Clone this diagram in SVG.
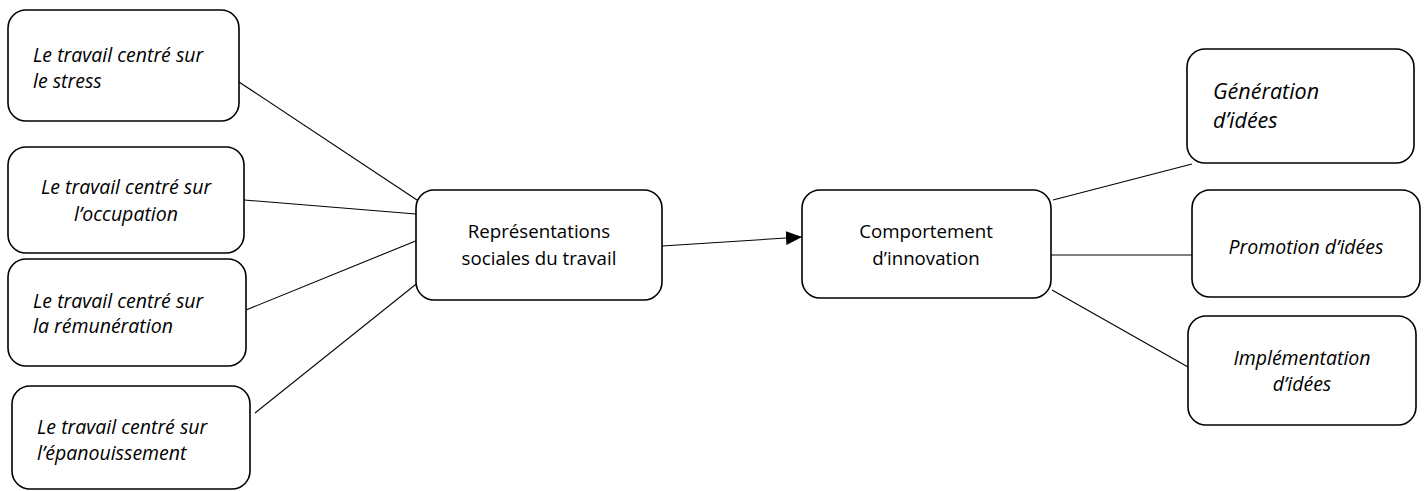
<svg xmlns="http://www.w3.org/2000/svg" width="1427" height="491" viewBox="0 0 1427 491">
<defs>
<style>
.box{fill:#fff;stroke:#000;stroke-width:1.6}
.t{font-family:"Open Sans","Liberation Sans",sans-serif;font-size:18.7px;fill:#000}
.i{font-style:italic;font-size:19.5px}
.c{text-anchor:middle}
.ln{stroke:#000;stroke-width:1.1;fill:none}
</style>
<marker id="ah" viewBox="0 0 16 14" refX="16" refY="7" markerWidth="16" markerHeight="14" markerUnits="userSpaceOnUse" orient="auto">
<path d="M0,0 L16,7 L0,14 z" fill="#000"/>
</marker>
</defs>
<g id="connectors">
<line class="ln" x1="239" y1="82" x2="420" y2="202"/>
<line class="ln" x1="244" y1="200" x2="416" y2="214"/>
<line class="ln" x1="246" y1="310" x2="418" y2="240"/>
<line class="ln" x1="255" y1="413" x2="420" y2="281"/>
<line class="ln" x1="662" y1="246" x2="802" y2="237" marker-end="url(#ah)"/>
<line class="ln" x1="1053" y1="200" x2="1192" y2="164"/>
<line class="ln" x1="1050" y1="255" x2="1192" y2="255"/>
<line class="ln" x1="1052" y1="290" x2="1188" y2="367"/>
</g>
<g id="n1"><rect class="box" x="8" y="10" width="231" height="111" rx="18"/>
<text class="t i" x="33" y="62">Le travail centré sur</text><text class="t i" x="33" y="88">le stress</text></g>
<g id="n2"><rect class="box" x="8" y="147" width="236" height="106" rx="18"/>
<text class="t i c" x="126" y="194">Le travail centré sur</text><text class="t i c" x="126" y="221">l’occupation</text></g>
<g id="n3"><rect class="box" x="8" y="259" width="238" height="107" rx="18"/>
<text class="t i" x="33" y="308">Le travail centré sur</text><text class="t i" x="33" y="333">la rémunération</text></g>
<g id="n4"><rect class="box" x="12" y="386" width="238" height="103" rx="18"/>
<text class="t i" x="37" y="434">Le travail centré sur</text><text class="t i" x="37" y="460">l’épanouissement</text></g>
<g id="n5"><rect class="box" x="416" y="190" width="246" height="110" rx="18"/>
<text class="t c" x="539" y="238">Représentations</text><text class="t c" x="539" y="265">sociales du travail</text></g>
<g id="n6"><rect class="box" x="802" y="190" width="249" height="108" rx="18"/>
<text class="t c" x="926" y="238">Comportement</text><text class="t c" x="926" y="265">d’innovation</text></g>
<g id="n7"><rect class="box" x="1187" y="49" width="227" height="114" rx="18"/>
<text class="t i" x="1213" y="99" style="font-size:21.5px">Génération</text><text class="t i" x="1213" y="128" style="font-size:21.5px">d’idées</text></g>
<g id="n8"><rect class="box" x="1192" y="190" width="228" height="107" rx="18"/>
<text class="t i c" x="1306" y="254">Promotion d’idées</text></g>
<g id="n9"><rect class="box" x="1188" y="316" width="228" height="109" rx="18"/>
<text class="t i c" x="1302" y="365">Implémentation</text><text class="t i c" x="1302" y="391">d’idées</text></g>
</svg>
